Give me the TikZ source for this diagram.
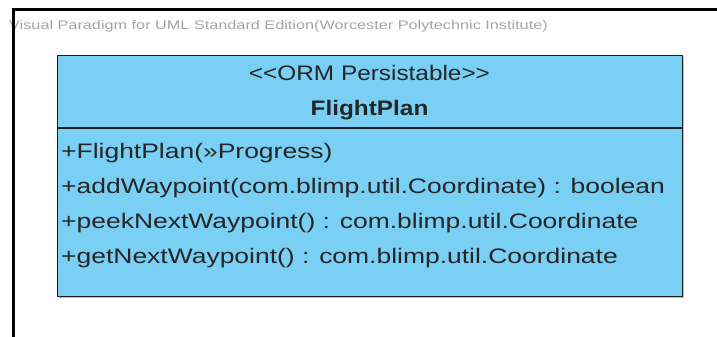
\documentclass[tikz,border=0pt]{standalone}
\usepackage{fontspec}
\setmainfont{Liberation Sans}
\newfontfamily\vpfont[FakeStretch=1.26]{Liberation Sans}
\newfontfamily\hdfont[FakeStretch=1.16]{Liberation Sans}
\newfontfamily\wmfont[FakeStretch=1.3]{Liberation Sans}
\definecolor{vpblue}{RGB}{122,207,245}
\definecolor{vpborder}{RGB}{30,30,30}
\definecolor{wmgray}{RGB}{165,165,165}
\begin{document}
\begin{tikzpicture}[x=1pt,y=-1pt,
  optext/.style={anchor=west,inner sep=0pt,font=\vpfont\fontsize{21}{24}\selectfont,text=black!85},
  headtext/.style={anchor=center,inner sep=0pt,font=\hdfont\fontsize{21}{24}\selectfont,text=black!85}]
\useasboundingbox (0,0) rectangle (717,337);
\fill[white] (0,0) rectangle (717,337);
% frame
\draw[line width=3pt,black] (13,337) -- (13,10) -- (717,10);
\node[anchor=west,inner sep=0pt,font=\wmfont\fontsize{12.5}{14}\selectfont,text=wmgray] (wm) at (9,26) {Visual Paradigm for UML Standard Edition(Worcester Polytechnic Institute)};
\fill[black] (11.5,12) rectangle (14.5,337);
% class box
\fill[black!25] (59,57) rectangle (684,298);
\node[draw=vpborder,line width=1.3pt,fill=vpblue,minimum width=625pt,minimum height=241pt,anchor=north west,inner sep=0pt] (cls) at (57,55) {};
\draw[vpborder,line width=1.3pt] (57,128) -- (682,128);
\node[headtext] (stereo) at (369.5,73) {<{}<ORM Persistable>{}>};
\node[headtext,font=\hdfont\bfseries\fontsize{21}{24}\selectfont] (name) at (369.5,110) {FlightPlan};
\node[optext] (op1) at (61,153) {+FlightPlan(»Progress)};
\node[optext] (op2) at (61,188) {+addWaypoint(com.blimp.util.Coordinate) : boolean};
\node[optext] (op3) at (61,223) {+peekNextWaypoint() : com.blimp.util.Coordinate};
\node[optext] (op4) at (61,258) {+getNextWaypoint() : com.blimp.util.Coordinate};
\end{tikzpicture}
\end{document}
